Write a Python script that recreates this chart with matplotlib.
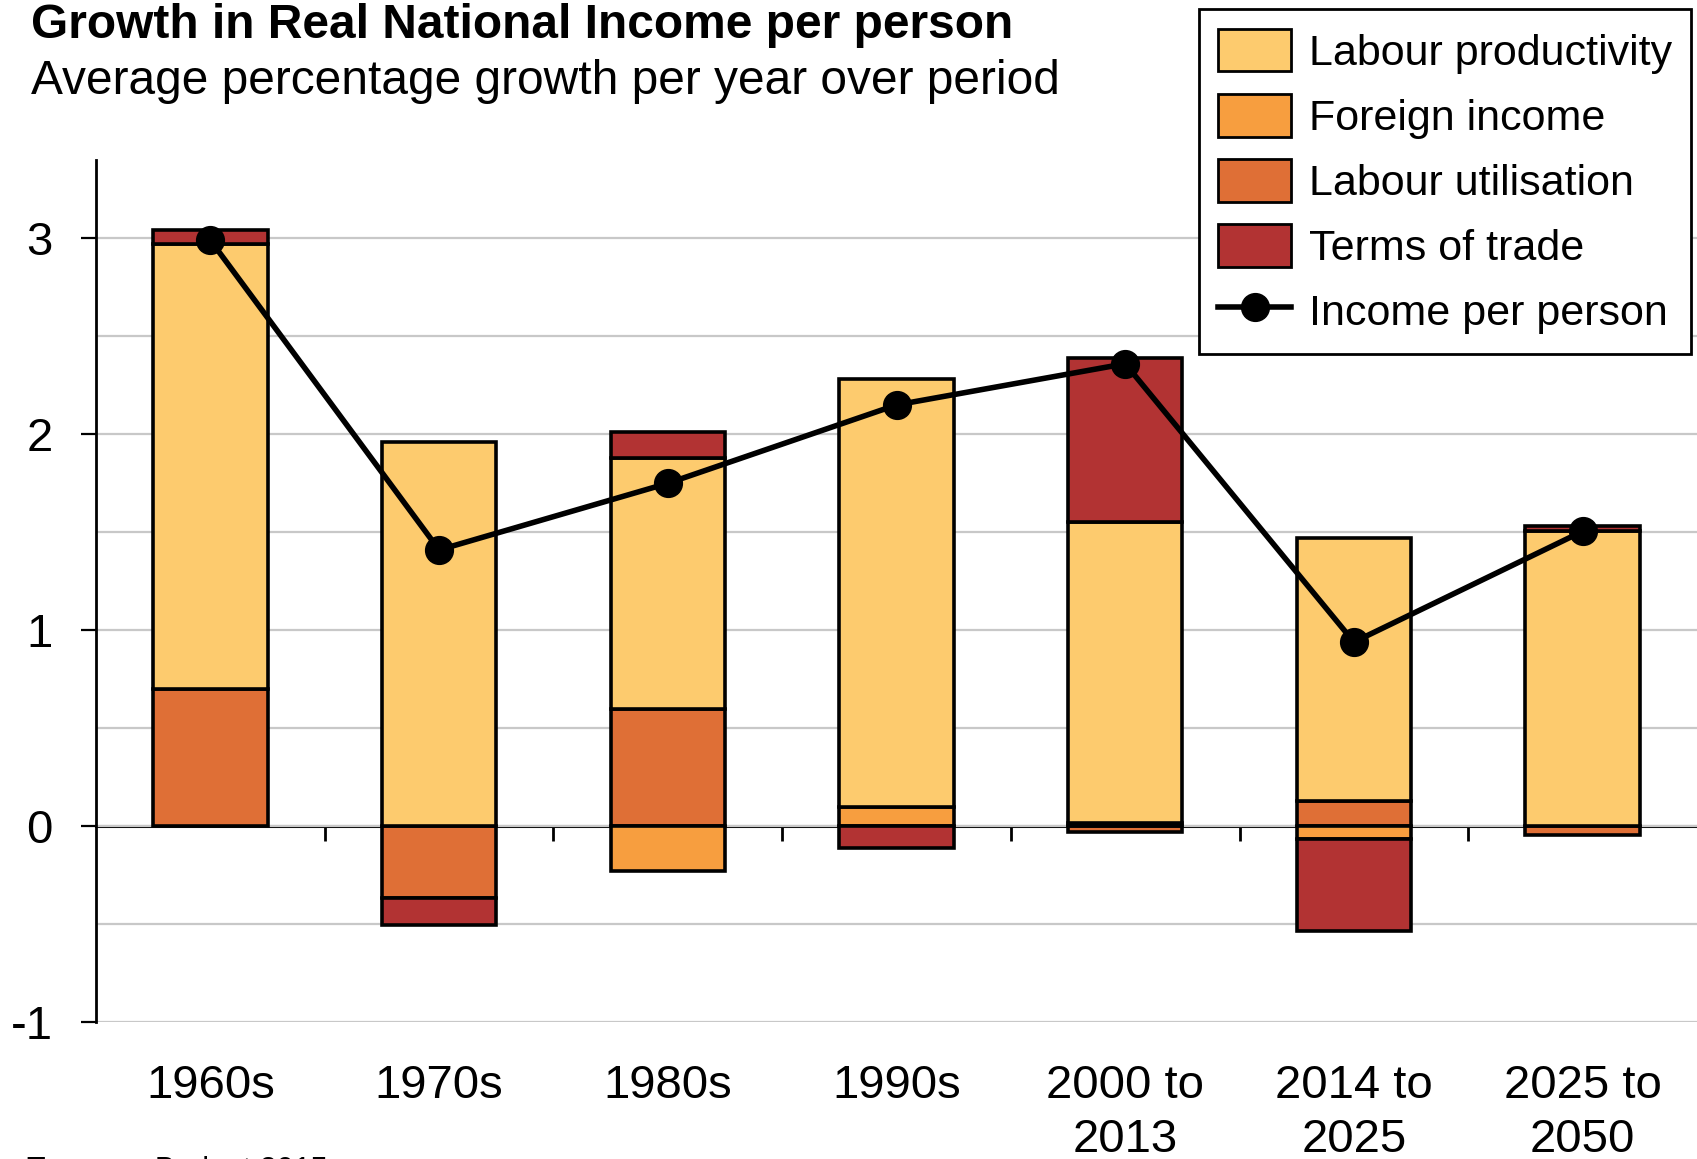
import numpy as np
import matplotlib.pyplot as plt
from matplotlib.patches import Patch
from matplotlib.lines import Line2D

plt.rcParams["font.family"] = ["Liberation Sans", "DejaVu Sans"]

# === Data (percentage points per year) ===
periods = ["1960s", "1970s", "1980s", "1990s", "2000 to\n2013", "2014 to\n2025", "2025 to\n2050"]
labour_utilisation = [0.70, -0.365, 0.60, 0.0, -0.03, 0.13, -0.045]
foreign_income = [0.0, 0.0, -0.23, 0.10, 0.015, -0.065, 0.0]
labour_productivity = [2.27, 1.96, 1.28, 2.18, 1.535, 1.34, 1.505]
terms_of_trade = [0.07, -0.14, 0.13, -0.11, 0.84, -0.47, 0.028]
income_per_person = [2.99, 1.41, 1.75, 2.15, 2.36, 0.94, 1.505]

series = [
    ("Labour utilisation", labour_utilisation, "#DF6F36"),
    ("Foreign income", foreign_income, "#F79E3F"),
    ("Labour productivity", labour_productivity, "#FDCB6E"),
    ("Terms of trade", terms_of_trade, "#B23333"),
]
legend_order = ["Labour productivity", "Foreign income", "Labour utilisation", "Terms of trade"]

x = np.arange(len(periods))

fig = plt.figure(figsize=(16.97, 11.59), dpi=100)
ax = fig.add_axes([0.0566, 0.118, 0.9434, 0.744])

# === Stacked bars: positives up from zero, negatives down from zero ===
pos_base = np.zeros(len(x))
neg_base = np.zeros(len(x))
for name, vals, color in series:
    vals = np.array(vals)
    pos = np.where(vals > 0, vals, 0)
    neg = np.where(vals < 0, vals, 0)
    m = vals > 0
    ax.bar(x[m], pos[m], 0.5, bottom=pos_base[m], color=color,
           edgecolor="black", linewidth=2.6, zorder=3)
    m = vals < 0
    ax.bar(x[m], neg[m], 0.5, bottom=neg_base[m], color=color,
           edgecolor="black", linewidth=2.6, zorder=3)
    pos_base += pos
    neg_base += neg

ax.plot(x, income_per_person, color="black", linewidth=4, marker="o",
        markersize=20, zorder=5)

# === Axes styling ===
ax.set_xlim(-0.5, 6.5)
ax.set_ylim(-1, 3.4)
ax.set_yticks([-1, 0, 1, 2, 3])
ax.set_yticks(np.arange(-1, 3.5, 0.5), minor=True)
ax.yaxis.grid(True, which="both", color="#c8c8c8", linewidth=1.6, zorder=0)
ax.tick_params(axis="y", which="major", labelsize=34, length=11, width=1.6,
               direction="out", pad=20)
ax.tick_params(axis="y", which="minor", length=0)
ax.set_yticklabels(["-1", "0", "1", "2", "3"])

ax.set_xticks(x)
ax.set_xticklabels(periods, fontsize=34, linespacing=1.3)
ax.tick_params(axis="x", length=0, pad=30)

for side in ["top", "right", "bottom"]:
    ax.spines[side].set_visible(False)
ax.spines["left"].set_linewidth(2)

# zero line with ticks between periods
zero_ax = ax.secondary_xaxis(0, transform=ax.transData)
zero_ax.set_xticks(x[:-1] + 0.5)
zero_ax.set_xticklabels([])
zero_ax.tick_params(length=11, width=2, direction="out")
zero_ax.spines["bottom"].set_linewidth(2.2)

# === Titles ===
fig.text(0.018, 0.967, "Growth in Real National Income per person",
         fontsize=34.5, fontweight="bold", va="baseline")
fig.text(0.018, 0.919, "Average percentage growth per year over period",
         fontsize=34.5, va="baseline")
fig.text(0.016, 0.003, "Treasury Budget 2015", fontsize=22, va="top")

# === Legend ===
colors = {name: color for name, _, color in series}
handles = [Patch(facecolor=colors[n], edgecolor="black", linewidth=2) for n in legend_order]
handles.append(Line2D([], [], color="black", linewidth=4, marker="o", markersize=20))
labels = legend_order + ["Income per person"]
leg = fig.legend(handles, labels, loc="upper left", bbox_to_anchor=(0.7065, 0.992),
                 fontsize=31, frameon=True, fancybox=False, edgecolor="black",
                 framealpha=1, handlelength=1.7, handleheight=1.15,
                 handletextpad=0.4, labelspacing=0.47, borderpad=0.45,
                 borderaxespad=0)
leg.get_frame().set_linewidth(2)

fig.savefig("out.png", dpi=100)
